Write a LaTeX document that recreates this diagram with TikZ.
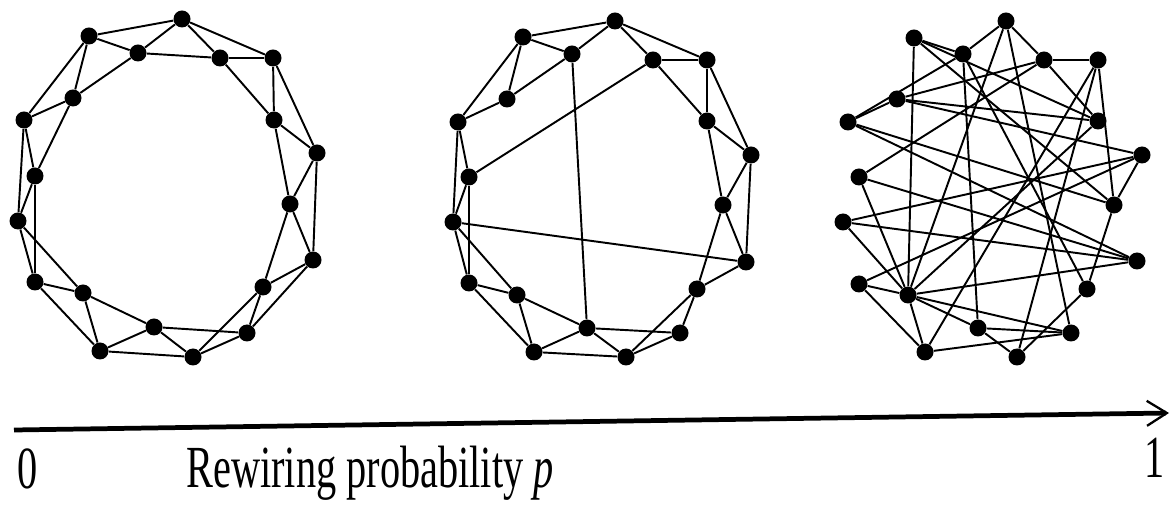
\documentclass[tikz,border=0pt]{standalone}
\usepackage{fontspec}
\setmainfont{Liberation Serif}
\usetikzlibrary{arrows.meta}
\tikzset{
  vertex/.style = {circle, fill=black, draw=none, inner sep=0pt, minimum size=3.4mm},
  link/.style   = {draw=black, line width=1.1pt},
  axis/.style   = {draw=black, line width=2.7pt,
                   -{Straight Barb[length=4mm, width=5mm, line width=1.3pt]}},
  lbl/.style    = {inner sep=0pt, font=\fontsize{34}{40}\selectfont, xscale=0.675},
}

\begin{document}
\begin{tikzpicture}[x=0.2mm, y=-0.2mm]
\useasboundingbox (0,0) rectangle (1171,505);

% regular ring lattice (p = 0)
\foreach \n/\x/\y in {a/182/19, b/89/36, c/138/53, d/220/58, e/273/58,
    f/73/98, g/24/120, h/274/120, i/317/153, j/35/176, k/290/204,
    l/18/221, m/313/260, n/35/282, o/83/293, p/263/287, q/154/327,
    r/247/333, s/100/351, t/193/357}
  \node[vertex] (L\n) at (\x,\y) {};
\foreach \u/\v in {a/d, a/e, d/e, d/h, e/h, e/i, h/i, h/k, i/k, i/m,
    k/m, k/p, m/p, m/r, p/r, p/t, r/t, r/q, t/q, t/s, q/s, q/o, s/o, s/n,
    o/n, o/l, n/l, n/j, l/j, l/g, j/g, j/f, g/f, g/b, f/b, f/c, b/c, b/a,
    c/a, c/d}
  \draw[link] (L\u) -- (L\v);

% small world (a few shortcuts)
\foreach \n/\x/\y in {a/615/21, b/523/37, c/572/54, d/653/60, e/707/60,
    f/507/99, g/458/122, h/707/121, i/751/155, j/469/177, k/723/205,
    l/453/222, m/746/262, n/469/283, o/517/295, p/697/289, q/587/328,
    r/680/333, s/534/352, t/626/357}
  \node[vertex] (W\n) at (\x,\y) {};
\foreach \u/\v in {a/d, a/e, a/c, a/b, d/e, d/h, e/h, e/i, h/i, h/k,
    i/k, i/m, k/m, k/p, m/p, p/r, p/t, r/t, r/q, t/q, t/s, q/s, q/o, s/o,
    s/n, o/n, o/l, n/l, n/j, l/j, l/g, j/g, g/f, g/b, f/b, f/c, b/c,
    d/j, m/l, c/q}
  \draw[link] (W\u) -- (W\v);

% random graph (p = 1)
\foreach \n/\x/\y in {a/1006/21, b/914/38, c/963/54, d/1044/60, e/1098/60,
    f/897/99, g/848/122, h/1098/121, i/1142/155, j/859/177, k/1114/205,
    l/843/222, m/1137/261, n/859/284, o/908/295, p/1087/289, q/978/328,
    r/1071/333, s/925/352, t/1017/357}
  \node[vertex] (R\n) at (\x,\y) {};
\foreach \u/\v in {a/c, c/g, a/d, a/o, a/r, b/c, b/o, b/h, b/k, c/q,
    c/p, d/e, d/h, d/f, d/j, e/k, e/s, e/t, f/g, f/h, f/i, g/k, g/m,
    j/o, j/m, l/i, l/m, l/o, n/i, n/o, n/s, o/h, o/m, o/q, o/r, o/s,
    q/r, q/t, r/s, t/p, p/k, i/k}
  \draw[link] (R\u) -- (R\v);

% probability axis
\coordinate (start) at (14,430);
\coordinate (stop) at (1169,413);
\draw[axis] (start) -- (stop);
\node[lbl, anchor=base] (zero) at (28,488) {0};
\node[lbl, anchor=base] (title) at (370,487) {Rewiring probability \textit{p}};
\node[lbl, anchor=base] (one) at (1155,478) {1};
\end{tikzpicture}
\end{document}
